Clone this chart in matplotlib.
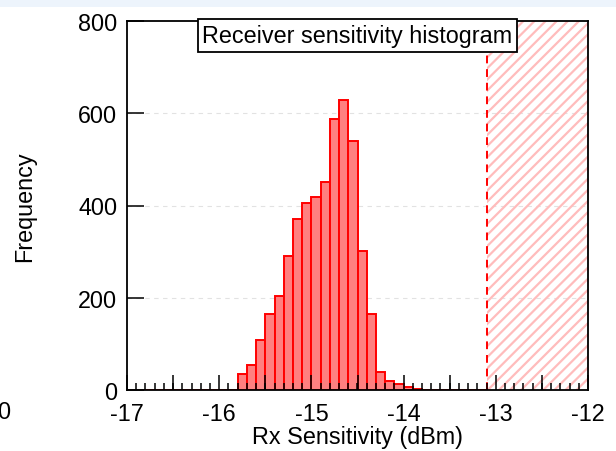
import numpy as np
import matplotlib
matplotlib.use("Agg")
import matplotlib.pyplot as plt
from matplotlib.patches import Rectangle
from matplotlib.ticker import MultipleLocator

plt.rcParams['font.family'] = ['Liberation Sans', 'DejaVu Sans']
plt.rcParams['hatch.linewidth'] = 1.6

# histogram of receiver sensitivity, 0.1 dBm bins starting at -17 dBm
bin_start = -17.0
bin_width = 0.1
counts = [0] * 12 + [
    34, 54, 109, 164, 203, 290, 370, 405, 419, 452,
    587, 628, 539, 302, 164, 38, 19, 12, 7, 3,
] + [0] * 7
spec_limit = -13.1   # failing region starts here
x_range = (-17, -12)
y_range = (0, 800)

FS = 16.8

lefts = bin_start + bin_width * np.arange(len(counts))

fig = plt.figure(figsize=(6.16, 4.52), dpi=100)
fig.patches.append(Rectangle((0, 1 - 8 / 452), 1, 8 / 452, transform=fig.transFigure,
                             facecolor='#edf4fc', edgecolor='none'))
fig.text(10 / 616, 1 - 413 / 452, "0", ha='right', va='center', fontsize=FS)

ax = fig.add_axes([127 / 616, 1 - 391 / 452, 461 / 616, 369 / 452])

for y in (200, 400, 600):
    ax.axhline(y, color='#e2e2e2', lw=0.8, ls=(0, (4, 4)), zorder=0)

ax.bar(lefts, counts, width=bin_width, align='edge', color='#ff8080',
       edgecolor='#ff0000', linewidth=1.4, zorder=1)

# out-of-spec band
ax.add_patch(Rectangle((spec_limit, y_range[0]), x_range[1] - spec_limit, y_range[1] - y_range[0],
                       facecolor='none', edgecolor='#ffbcbc', hatch='///', linewidth=0, zorder=0.5))
ax.axvline(spec_limit, color='#ff0000', lw=1.4, ls=(0, (4, 3)), zorder=1.5)

ax.set_xlim(*x_range)
ax.set_ylim(*y_range)
ax.xaxis.set_major_locator(MultipleLocator(1))
ax.xaxis.set_minor_locator(MultipleLocator(0.1))
ax.yaxis.set_major_locator(MultipleLocator(200))
ax.set_xticklabels([f"{v:g}" for v in ax.get_xticks()])

ax.tick_params(axis='x', which='major', direction='in', length=0, pad=8.5, labelsize=FS)
ax.tick_params(axis='x', which='minor', direction='in', length=5.2, width=1.1, color='black')
ax.tick_params(axis='y', which='major', direction='in', length=12, width=1.1, pad=7,
               labelsize=FS)
# taller ticks every half dBm
for v in np.arange(-17, -11.99, 0.5):
    ax.plot([v], [0], marker=2, markersize=11, mew=1.1, color='black',
            clip_on=False, zorder=3)

for s in ax.spines.values():
    s.set_linewidth(1.3)

ax.set_xlabel("Rx Sensitivity (dBm)", fontsize=FS, labelpad=0)
ax.set_ylabel("Frequency", fontsize=FS, labelpad=30)

ax.text(0.5, 0.961, "Receiver sensitivity histogram", transform=ax.transAxes,
        ha='center', va='center', fontsize=FS, zorder=5,
        bbox=dict(boxstyle='square,pad=0.2', facecolor='white', edgecolor='black', linewidth=1.3))

fig.savefig("out.png", dpi=100)
